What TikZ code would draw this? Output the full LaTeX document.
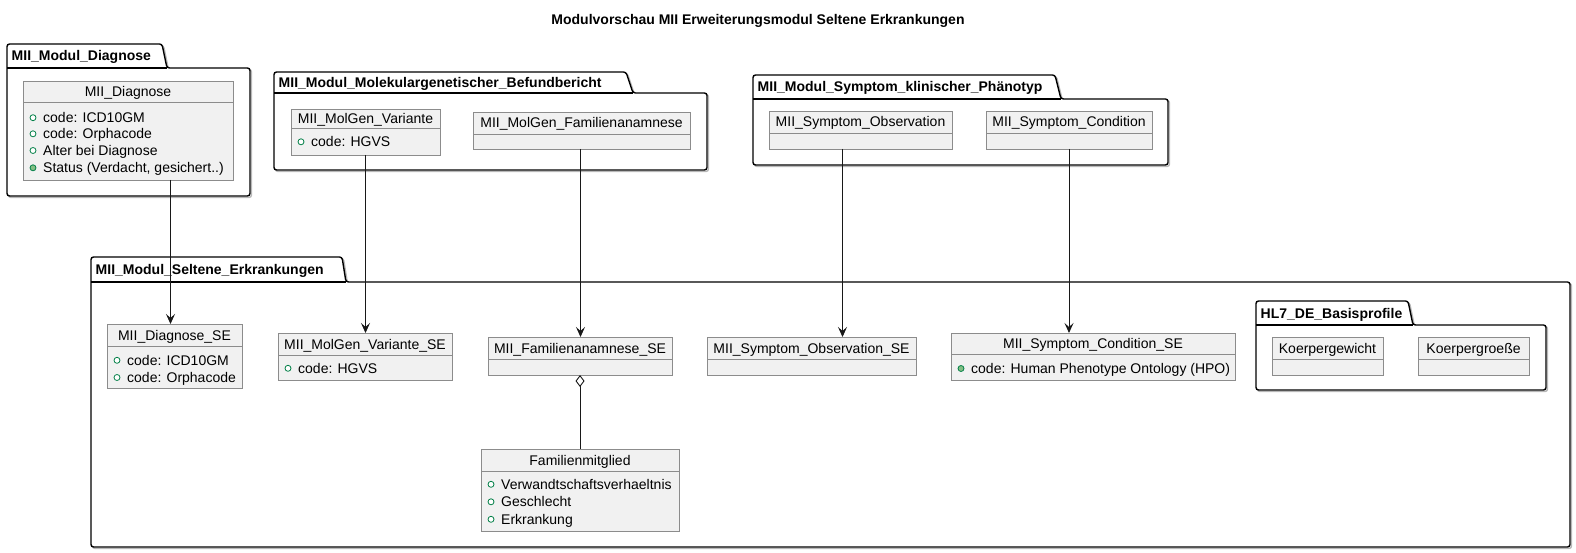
\documentclass[tikz,border=0pt]{standalone}
\usepackage{fontspec}
\setmainfont{Liberation Sans}
\usetikzlibrary{arrows.meta,calc}
\definecolor{clsfill}{HTML}{F1F1F1}
\definecolor{clsborder}{HTML}{8C8C8C}
\definecolor{icongreen}{HTML}{038048}
\definecolor{iconfill}{HTML}{84BE84}
\definecolor{linecol}{HTML}{181818}
\tikzset{
  clsbox/.style={draw=clsborder, fill=clsfill, line width=0.9pt, inner sep=0pt, outer sep=0pt, rectangle},
  clsline/.style={draw=clsborder, line width=0.9pt},
  txt/.style={font=\fontsize{14}{16}\selectfont, inner sep=0pt, text height=10pt, text depth=0pt},
  clstitle/.style={txt},
  attr/.style={txt, anchor=west},
  pkg/.style={draw=black, line width=1.4pt, rounded corners=2.5pt, fill=white},
  pkgshadow/.style={draw=black!28, line width=1.4pt, rounded corners=2.5pt},
  pkglabel/.style={font=\bfseries\fontsize{14}{16}\selectfont, inner sep=0pt, text height=10pt, text depth=0pt, anchor=west},
  conn/.style={draw=linecol, line width=0.9pt},
  arr/.style={conn, -{Stealth[length=10pt, width=9pt, inset=4pt]}},
  aggr/.style={conn, {Diamond[fill=white, length=12pt, width=9pt]}-},
  pubfield/.style={draw=icongreen, fill=white, line width=0.8pt},
  pubmeth/.style={draw=icongreen, fill=iconfill, line width=0.8pt},
}
% package: name, L, T, B, TR1, TR2, R, Bot, label
\newcommand\umlpkg[9]{%
  \draw[pkgshadow, shift={(1.5,1.5)}] (#2,#8) -- (#2,#3) -- (#5,#3) -- (#6,#4) -- (#7,#4) -- (#7,#8) -- cycle;
  \draw[pkg] (#2,#8) -- (#2,#3) -- (#5,#3) -- (#6,#4) -- (#7,#4) -- (#7,#8) -- cycle;
  \draw[pkg, fill=none, rounded corners=0pt] (#2,#4) -- (#6,#4);
  \node[pkglabel] (#1) at (#2+4.5,{(#3+#4)/2}) {#9};
}
% class: name, L, T, R, S, Bot, title
\newcommand\umlcls[7]{%
  \node[clsbox, anchor=north west, minimum width={#4-#2}, minimum height={#6-#3}] (#1) at (#2,#3) {};
  \draw[clsline] (#2,#5) -- (#4,#5);
  \node[clstitle] (#1-t) at ({(#2+#4)/2},{(#3+#5)/2}) {#7};
}
% attribute: icon style, L, y, text, name
\newcommand\umlattr[5]{%
  \draw[#1] (#2+10,#3) circle[radius=3pt];
  \node[attr] (#5) at (#2+20,#3) {#4};
}
\begin{document}
\begin{tikzpicture}[x=1pt, y=-1pt]
\useasboundingbox (0,0) rectangle (1576,553);

\node[font=\bfseries\fontsize{14}{16}\selectfont, inner sep=0pt, text height=10pt, text depth=0pt] (title) at (758,20) {Modulvorschau MII Erweiterungsmodul Seltene Erkrankungen};

% packages
\umlpkg{pdiag}{7}{44}{68}{162}{167}{250}{196}{MII\_Modul\_Diagnose}
\umlpkg{pmol}{274}{72}{93}{626}{633}{707}{170}{MII\_Modul\_Molekulargenetischer\_Befundbericht}
\umlpkg{psym}{753}{75}{99}{1055}{1061}{1168}{165}{MII\_Modul\_Symptom\_klinischer\_Phänotyp}
\umlpkg{pse}{91}{257}{282}{342}{346}{1570}{547}{MII\_Modul\_Seltene\_Erkrankungen}
\umlpkg{phl}{1256}{301}{325}{1408}{1413}{1546}{390}{HL7\_DE\_Basisprofile}

% classes (top)
\umlcls{diag}{23}{81}{233}{102}{180}{MII\_Diagnose}
\umlattr{pubfield}{23}{117.7}{code: ICD10GM}{diag-a1}
\umlattr{pubfield}{23}{133.8}{code: Orphacode}{diag-a2}
\umlattr{pubfield}{23}{150.5}{Alter bei Diagnose}{diag-a3}
\umlattr{pubmeth}{23}{167.8}{Status (Verdacht, gesichert..)}{diag-a4}

\umlcls{molvar}{291}{109}{440}{128}{155}{MII\_MolGen\_Variante}
\umlattr{pubfield}{291}{141.8}{code: HGVS}{molvar-a1}

\umlcls{molfam}{473}{112}{690}{134}{149}{MII\_MolGen\_Familienanamnese}
\umlcls{symobs}{769}{111}{952}{133}{149}{MII\_Symptom\_Observation}
\umlcls{symcond}{986}{111}{1152}{133}{149}{MII\_Symptom\_Condition}

% classes (bottom)
\umlcls{diagse}{107}{324}{242}{346}{388}{MII\_Diagnose\_SE}
\umlattr{pubfield}{107}{360.3}{code: ICD10GM}{diagse-a1}
\umlattr{pubfield}{107}{377.5}{code: Orphacode}{diagse-a2}

\umlcls{molvarse}{278}{333}{452}{355}{380}{MII\_MolGen\_Variante\_SE}
\umlattr{pubfield}{278}{368.3}{code: HGVS}{molvarse-a1}

\umlcls{famse}{488}{337}{672}{359}{375}{MII\_Familienanamnese\_SE}
\umlcls{symobsse}{707}{337}{916}{359}{375}{MII\_Symptom\_Observation\_SE}

\umlcls{symcondse}{951}{333}{1235}{354}{380}{MII\_Symptom\_Condition\_SE}
\umlattr{pubmeth}{951}{368.5}{code: Human Phenotype Ontology (HPO)}{symcondse-a1}

\umlcls{fammit}{481}{449}{679}{471}{531}{Familienmitglied}
\umlattr{pubfield}{481}{484.3}{Verwandtschaftsverhaeltnis}{fammit-a1}
\umlattr{pubfield}{481}{501.8}{Geschlecht}{fammit-a2}
\umlattr{pubfield}{481}{519.3}{Erkrankung}{fammit-a3}

\umlcls{kgew}{1272}{337}{1383}{359}{375}{Koerpergewicht}
\umlcls{kgr}{1418}{337}{1529}{359}{375}{Koerpergroeße}

% connectors
\coordinate (x1) at (170.5,0);
\coordinate (x2) at (365.5,0);
\coordinate (x3) at (580.5,0);
\coordinate (x4) at (842.5,0);
\coordinate (x5) at (1069,0);
\draw[arr] (diag.south -| x1) -- (diagse.north -| x1);
\draw[arr] (molvar.south -| x2) -- (molvarse.north -| x2);
\draw[arr] (molfam.south -| x3) -- (famse.north -| x3);
\draw[arr] (symobs.south -| x4) -- (symobsse.north -| x4);
\draw[arr] (symcond.south -| x5) -- (symcondse.north -| x5);
\draw[aggr] (famse.south -| fammit.north) -- (fammit.north);
\end{tikzpicture}
\end{document}
